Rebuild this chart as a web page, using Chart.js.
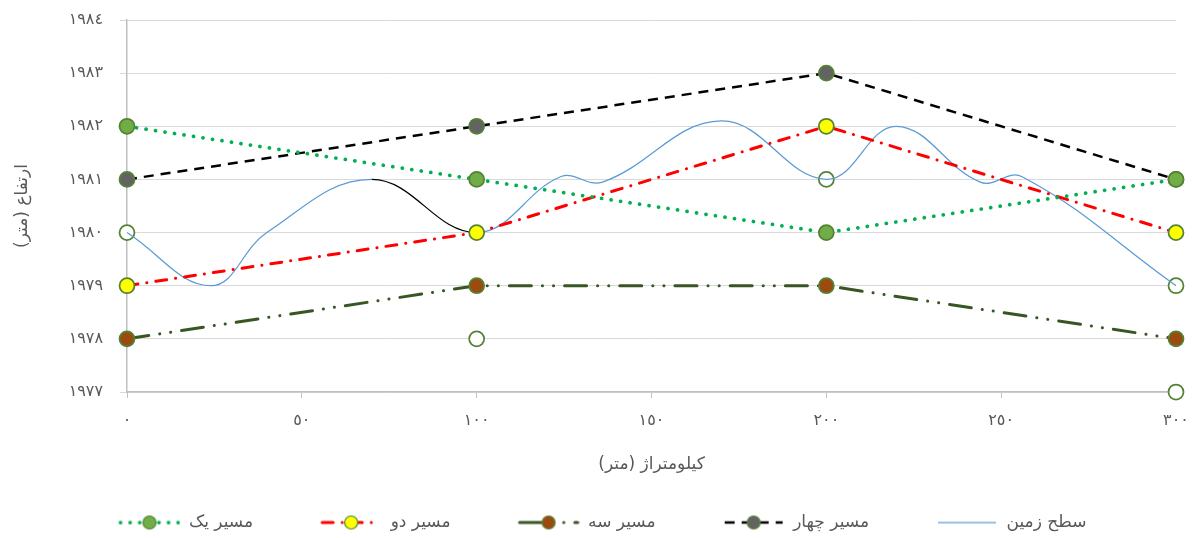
<!DOCTYPE html>
<html>
<head>
<meta charset="utf-8">
<script src="https://cdn.jsdelivr.net/npm/chart.js@4.4.1/dist/chart.umd.min.js"></script>
<style>
  html, body { margin: 0; padding: 0; background: #ffffff; }
  #wrap { width: 1194px; height: 538px; }
</style>
</head>
<body>
<div id="wrap"><canvas id="chart" width="1194" height="538"></canvas></div>
<script>
// route stations (m)
const stations = [0, 100, 200, 300];
// elevations of each route
const route1 = [1982, 1981, 1980, 1981];
const route2 = [1979, 1980, 1982, 1980];
const route3 = [1978, 1979, 1979, 1978];
const route4 = [1981, 1982, 1983, 1981];
// ground surface profile
const groundX = [0, 24, 40, 70, 100, 124, 136, 170, 200, 220, 244, 256, 300];
const groundY = [1980, 1979, 1980, 1981, 1980, 1981.05, 1980.95, 1982.1, 1981, 1982, 1980.95, 1981.05, 1979];
// hollow survey markers
const markerX = [0, 100, 200, 300, 300];
const markerY = [1980, 1978, 1981, 1979, 1977];

const seriesNames = ["مسیر یک", "مسیر دو", "مسیر سه", "مسیر چهار", "سطح زمین"];
const xTickLabels = ["٠", "٥٠", "١٠٠", "١٥٠", "٢٠٠", "٢٥٠", "٣٠٠"];
const yTickLabels = ["١٩٧٧", "١٩٧٨", "١٩٧٩", "١٩٨٠", "١٩٨١", "١٩٨٢", "١٩٨٣", "١٩٨٤"];
const xTitle = "کیلومتراژ (متر)\u200F";
const yTitle = "ارتفاع (متر)\u200F";

const FONT = "'DejaVu Sans', 'Noto Sans', sans-serif";
const TEXT = "#595959";
const MARK_EDGE = "#548235";

function pts(xs, ys){
    return xs.map((x, i) => ({x: x, y: ys[i]}));
}

const styles = [
    {color: "#00b050", width: 3.75, dash: [0.1, 9.5], cap: "round", fill: "#70ad47"},
    {color: "#ff0000", width: 3, dash: [11, 9, 0.1, 9], cap: "round", fill: "#ffff00"},
    {color: "#375623", width: 3, dash: [22, 11, 0.1, 11, 0.1, 11], cap: "round", fill: "#9c4a0f"},
    {color: "#000000", width: 2.5, dash: [10, 7], cap: "butt", fill: "#636363"},
    {color: "#5b9bd5", width: 1.25, dash: [], cap: "butt", fill: null}
];

// legend samples: blank lead-in, then a line piece with the marker in the middle
const LEAD = 57;
const SAMPLE_W = LEAD + 62;
function makeSample(s){
    const c = document.createElement("canvas");
    c.width = SAMPLE_W; c.height = 16;
    const g = c.getContext("2d");
    g.strokeStyle = s.color;
    g.lineWidth = s.width;
    g.lineCap = s.cap;
    g.setLineDash(s.dash);
    g.beginPath();
    g.moveTo(LEAD + 2, 8); g.lineTo(LEAD + 60, 8);
    g.stroke();
    if(s.fill){
        g.setLineDash([]);
        g.beginPath();
        g.arc(LEAD + 31, 8, 6.5, 0, Math.PI*2);
        g.fillStyle = s.fill;
        g.fill();
        g.lineWidth = 1.2;
        g.strokeStyle = MARK_EDGE;
        g.stroke();
    }
    return c;
}
const legendSamples = styles.map(makeSample);

function routeSet(i, data){
    const s = styles[i];
    return {
        label: seriesNames[i],
        data: pts(stations, data),
        borderColor: s.color,
        borderWidth: s.width,
        borderDash: s.dash,
        borderCapStyle: s.cap,
        pointRadius: 7.5,
        pointHoverRadius: 7.5,
        pointBackgroundColor: s.fill,
        pointBorderColor: MARK_EDGE,
        pointBorderWidth: 1.75,
        tension: 0,
        clip: false
    };
}

// the first sample's blank lead-in pushes the row right; pull the legend back
const legendShift = {
    id: "legendShift",
    afterLayout(chart){
        chart.legend.left -= 17;
        chart.legend.right -= 17;
    }
};

const ctx = document.getElementById("chart").getContext("2d");
new Chart(ctx, {
    type: "line",
    data: {
        datasets: [
            routeSet(0, route1),
            routeSet(1, route2),
            routeSet(2, route3),
            routeSet(3, route4),
            {
                label: seriesNames[4],
                data: pts(groundX, groundY),
                borderColor: styles[4].color,
                borderWidth: 1.25,
                pointRadius: 0,
                tension: 0.4,
                clip: false,
                segment: {
                    borderColor: c => (c.p0.parsed.x === 70 ? "#000000" : styles[4].color)
                }
            },
            {
                label: "markers",
                data: pts(markerX, markerY),
                showLine: false,
                pointRadius: 7.5,
                pointBackgroundColor: "#ffffff",
                pointBorderColor: MARK_EDGE,
                pointBorderWidth: 1.75,
                clip: false
            }
        ]
    },
    plugins: [legendShift],
    options: {
        responsive: false,
        animation: false,
        layout: {padding: {left: 6, right: 18, top: 20, bottom: -3}},
        scales: {
            x: {
                type: "linear",
                min: 0, max: 300,
                afterFit: s => { s.height = 112; s.paddingLeft = 0; s.paddingRight = 0; },
                ticks: {
                    stepSize: 50,
                    padding: 13,
                    color: TEXT,
                    font: {family: FONT, size: 16},
                    maxRotation: 0,
                    callback: (v) => xTickLabels[v/50]
                },
                grid: {drawOnChartArea: false, drawTicks: true, tickLength: 6, color: "#bfbfbf"},
                border: {color: "#bfbfbf", width: 1.5},
                title: {
                    display: true, text: xTitle, color: TEXT,
                    font: {family: FONT, size: 17},
                    padding: {top: 10, bottom: 29}
                }
            },
            y: {
                min: 1977, max: 1984,
                afterFit: s => { s.width = 121; s.paddingTop = 0; s.paddingBottom = 0; },
                ticks: {
                    stepSize: 1,
                    padding: 17,
                    color: TEXT,
                    font: {family: FONT, size: 16},
                    callback: (v) => yTickLabels[v - 1977]
                },
                grid: {color: "#d9d9d9", tickLength: 7, lineWidth: 1},
                border: {color: "#bfbfbf", width: 1.5},
                title: {
                    display: true, text: yTitle, color: TEXT,
                    font: {family: FONT, size: 17},
                    padding: {top: 6, bottom: 10}
                }
            }
        },
        plugins: {
            tooltip: {enabled: false},
            legend: {
                position: "bottom",
                labels: {
                    usePointStyle: true,
                    pointStyleWidth: SAMPLE_W,
                    padding: 10,
                    color: TEXT,
                    font: {family: FONT, size: 17},
                    filter: item => item.datasetIndex < 5,
                    generateLabels: chart => Chart.defaults.plugins.legend.labels.generateLabels(chart)
                        .map(l => Object.assign(l, {pointStyle: legendSamples[l.datasetIndex]}))
                }
            }
        }
    }
});
</script>
</body>
</html>
